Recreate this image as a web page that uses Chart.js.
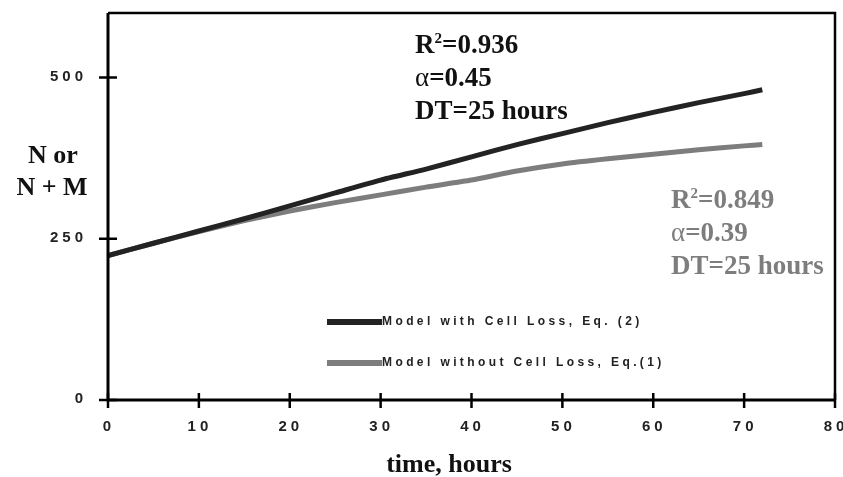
<!DOCTYPE html>
<html>
<head>
<meta charset="utf-8">
<script src="https://cdn.jsdelivr.net/npm/chart.js@4"></script>
<style>
  html, body { margin: 0; padding: 0; background: #fff; }
  #wrap { width: 843px; height: 477px; }
</style>
</head>
<body>
<div id="wrap"><canvas id="myChart"></canvas></div>
<script>
// time points (hours)
const hours = [0, 5, 10, 15, 20, 25, 30, 35, 40, 45, 50, 55, 60, 65, 70, 72];
// model with cell loss, eq. (2)
const withLoss = [224, 243, 262, 281, 301, 321, 341, 358, 377, 396, 413, 430, 446, 461, 475, 481];
// model without cell loss, eq. (1)
const withoutLoss = [224, 243, 261, 278, 293, 306, 318, 330, 341, 355, 366, 374, 381, 388, 394, 396];

const xTicks = [0, 10, 20, 30, 40, 50, 60, 70, 80];
const yTicks = [0, 250, 500];
const seriesNames = ['Model with Cell Loss, Eq. (2)', 'Model without Cell Loss, Eq.(1)'];

const dark = '#232323';
const grey = '#7d7d7d';
const serif = '"Liberation Serif", "Times New Roman", serif';
const sans = '"Liberation Sans", Arial, sans-serif';

// crossing ticks, labels, titles, legend and fit notes
const decor = {
    id: 'decor',
    afterDraw(chart) {
        const ctx = chart.ctx;
        const a = chart.chartArea;
        const xs = chart.scales.x;
        const ys = chart.scales.y;
        ctx.save();

        // frame
        ctx.strokeStyle = '#000';
        ctx.lineWidth = 2.5;
        ctx.beginPath();
        ctx.moveTo(a.left, a.top);
        ctx.lineTo(a.right, a.top);
        ctx.lineTo(a.right, a.bottom);
        ctx.stroke();
        ctx.lineWidth = 3;
        ctx.beginPath();
        ctx.moveTo(a.left, a.top);
        ctx.lineTo(a.left, a.bottom);
        ctx.lineTo(a.right, a.bottom);
        ctx.stroke();

        // ticks
        ctx.lineWidth = 2.5;
        xTicks.forEach(v => {
            const px = xs.getPixelForValue(v);
            ctx.beginPath();
            ctx.moveTo(px, a.bottom - 7);
            ctx.lineTo(px, a.bottom + 8);
            ctx.stroke();
        });
        yTicks.forEach(v => {
            const py = ys.getPixelForValue(v);
            ctx.beginPath();
            ctx.moveTo(a.left - 9, py);
            ctx.lineTo(a.left + 9, py);
            ctx.stroke();
        });

        // tick labels
        ctx.fillStyle = '#222';
        ctx.font = 'bold 15px ' + sans;
        ctx.letterSpacing = '4px';
        ctx.textBaseline = 'middle';
        ctx.textAlign = 'center';
        xTicks.forEach(v => {
            ctx.fillText(String(v), xs.getPixelForValue(v) + 1, a.bottom + 27);
        });
        ctx.textAlign = 'right';
        yTicks.forEach(v => {
            ctx.fillText(String(v), a.left - 21, ys.getPixelForValue(v) - 1);
        });

        // axis titles
        ctx.letterSpacing = '0px';
        ctx.fillStyle = '#111';
        ctx.font = 'bold 26px ' + serif;
        ctx.textBaseline = 'alphabetic';
        ctx.textAlign = 'center';
        ctx.fillText('N or', 53, 163);
        ctx.fillText('N + M', 52, 195);
        ctx.fillText('time, hours', 449, 472);

        // legend
        const legendY = [322, 363];
        const legendCol = [dark, grey];
        legendY.forEach((y, i) => {
            ctx.strokeStyle = legendCol[i];
            ctx.lineWidth = 6;
            ctx.beginPath();
            ctx.moveTo(327, y);
            ctx.lineTo(382, y);
            ctx.stroke();
            ctx.fillStyle = '#222';
            ctx.font = 'bold 12px ' + sans;
            ctx.letterSpacing = '3.4px';
            ctx.textAlign = 'left';
            ctx.textBaseline = 'middle';
            ctx.fillText(seriesNames[i], 382, y);
        });
        ctx.letterSpacing = '0px';

        // fit notes
        function note(x, y, col, r2, alpha, dt) {
            const big = 'bold 27px ' + serif;
            ctx.fillStyle = col;
            ctx.textAlign = 'left';
            ctx.textBaseline = 'alphabetic';
            ctx.font = big;
            ctx.fillText('R', x, y);
            let w = ctx.measureText('R').width;
            ctx.font = 'bold 15px ' + serif;
            ctx.fillText('2', x + w, y - 10);
            w += ctx.measureText('2').width;
            ctx.font = big;
            ctx.fillText('=' + r2, x + w, y);
            ctx.font = '27px ' + serif;
            ctx.fillText('\u03b1', x, y + 33);
            const wa = ctx.measureText('\u03b1').width;
            ctx.font = big;
            ctx.fillText('=' + alpha, x + wa, y + 33);
            ctx.fillText('DT=' + dt + ' hours', x, y + 66);
        }
        note(415, 53, '#111', '0.936', '0.45', 25);
        note(671, 208, grey, '0.849', '0.39', 25);

        ctx.restore();
    }
};

const ctx = document.getElementById('myChart').getContext('2d');
const myChart = new Chart(ctx, {
    type: 'line',
    data: {
        datasets: [{
            label: seriesNames[0],
            data: hours.map((h, i) => ({ x: h, y: withLoss[i] })),
            borderColor: dark,
            borderWidth: 5,
            pointRadius: 0,
            tension: 0.2,
            fill: false
        }, {
            label: seriesNames[1],
            data: hours.map((h, i) => ({ x: h, y: withoutLoss[i] })),
            borderColor: grey,
            borderWidth: 5,
            pointRadius: 0,
            tension: 0.2,
            fill: false
        }]
    },
    options: {
        responsive: true,
        maintainAspectRatio: false,
        animation: false,
        layout: {
            padding: { left: 0, top: 13, right: 8, bottom: 0 }
        },
        plugins: {
            legend: { display: false },
            tooltip: { enabled: false }
        },
        scales: {
            x: {
                type: 'linear',
                min: 0,
                max: 80,
                grid: { display: false },
                border: { display: false },
                ticks: { display: false },
                afterFit: s => { s.height = 77; }
            },
            y: {
                min: 0,
                max: 600,
                grid: { display: false },
                border: { display: false },
                ticks: { display: false },
                afterFit: s => { s.width = 108; }
            }
        }
    },
    plugins: [decor]
});
</script>
</body>
</html>
